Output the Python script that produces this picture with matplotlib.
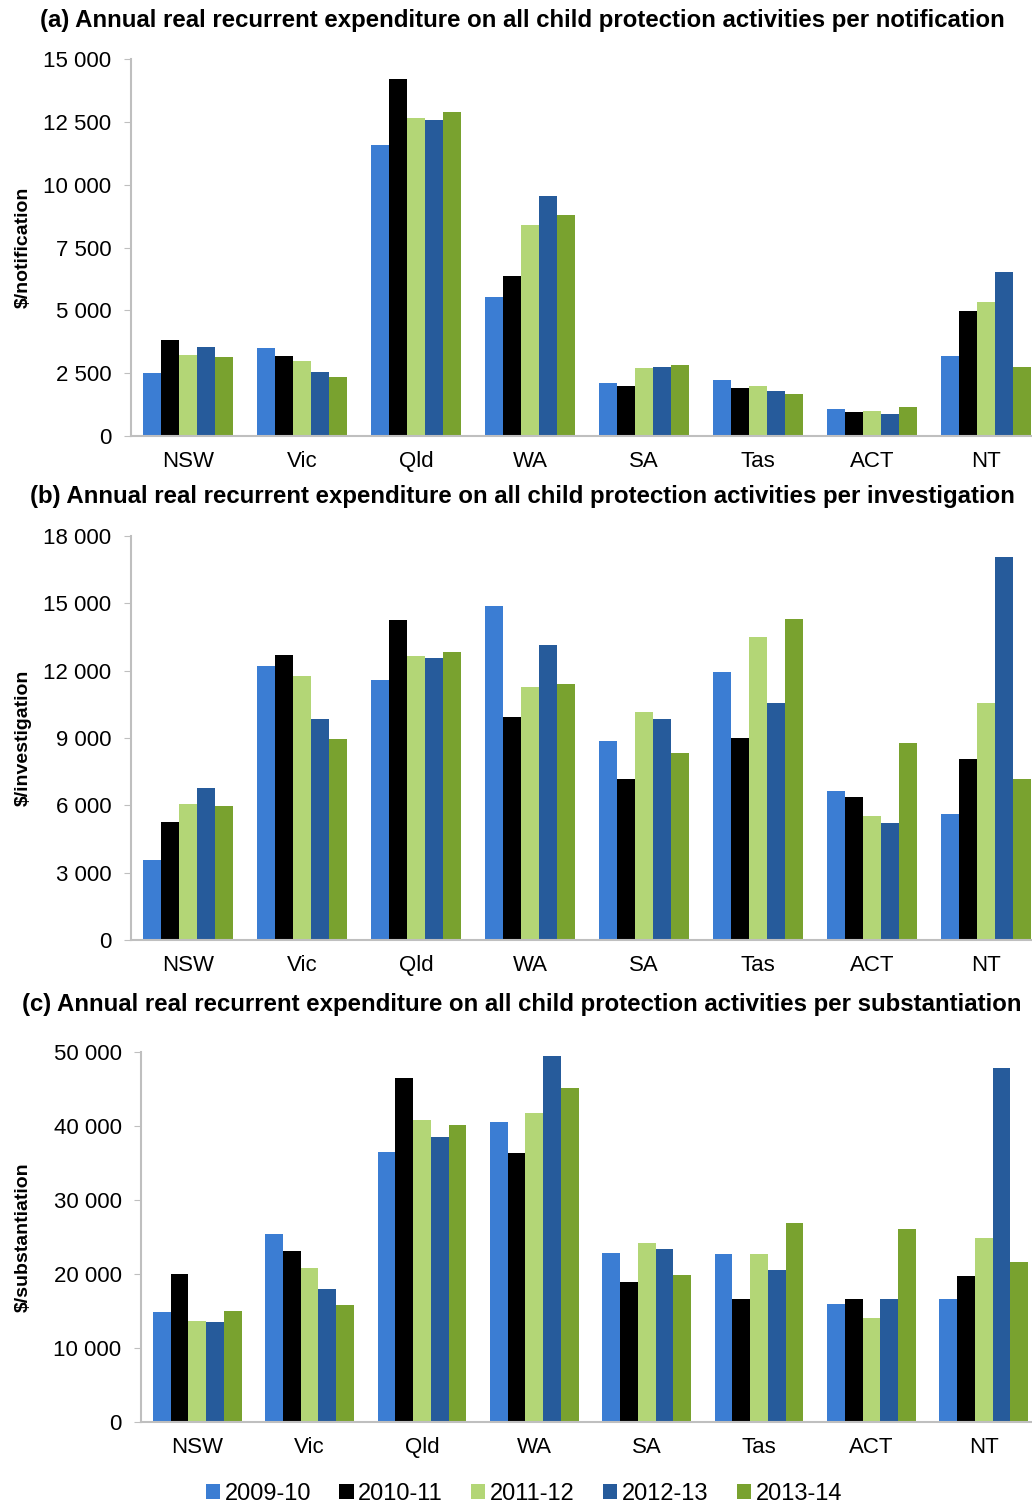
import numpy as np
import matplotlib
matplotlib.use("Agg")
import matplotlib.pyplot as plt

plt.rcParams['font.family'] = ['Liberation Sans', 'DejaVu Sans']

# Jurisdictions and years
states = ["NSW", "Vic", "Qld", "WA", "SA", "Tas", "ACT", "NT"]
years = ["2009-10", "2010-11", "2011-12", "2012-13", "2013-14"]
colors = ["#3b7dd3", "#000000", "#b3d676", "#265b9b", "#79a22f"]

# (a) $ per notification, one list per year (NSW..NT)
notif_0910 = [2510, 3490, 11570, 5520, 2100, 2240, 1090, 3180]
notif_1011 = [3810, 3180, 14220, 6350, 1980, 1920, 940, 4960]
notif_1112 = [3220, 2970, 12670, 8400, 2710, 1980, 990, 5320]
notif_1213 = [3540, 2560, 12560, 9540, 2760, 1780, 890, 6510]
notif_1314 = [3130, 2340, 12880, 8810, 2810, 1670, 1140, 2760]

# (b) $ per investigation
inv_0910 = [3580, 12200, 11590, 14900, 8860, 11950, 6650, 5600]
inv_1011 = [5260, 12690, 14250, 9950, 7190, 8990, 6360, 8070]
inv_1112 = [6040, 11760, 12670, 11290, 10180, 13500, 5510, 10560]
inv_1213 = [6770, 9830, 12550, 13160, 9830, 10560, 5200, 17050]
inv_1314 = [5970, 8940, 12850, 11410, 8330, 14280, 8760, 7160]

# (c) $ per substantiation
sub_0910 = [14860, 25400, 36440, 40600, 22900, 22700, 16000, 16600]
sub_1011 = [20050, 23060, 46500, 36400, 18900, 16600, 16600, 19700]
sub_1112 = [13700, 20760, 40800, 41800, 24200, 22700, 14100, 24800]
sub_1213 = [13500, 17930, 38560, 49460, 23400, 20600, 16600, 47900]
sub_1314 = [15050, 15800, 40200, 45200, 19800, 26900, 26100, 21600]

panels = [
    ("(a) Annual real recurrent expenditure on all child protection activities per notification",
     "$/notification", [notif_0910, notif_1011, notif_1112, notif_1213, notif_1314],
     15000, 2500, [131, 59, 1043, 436], 20),
    ("(b) Annual real recurrent expenditure on all child protection activities per investigation",
     "$/investigation", [inv_0910, inv_1011, inv_1112, inv_1213, inv_1314],
     18000, 3000, [131, 536, 1043, 940], 497),
    ("(c) Annual real recurrent expenditure on all child protection activities per substantiation",
     "$/substantiation", [sub_0910, sub_1011, sub_1112, sub_1213, sub_1314],
     50000, 10000, [141, 1052, 1040, 1422], 1005),
]

W, H = 1032, 1504
fig = plt.figure(figsize=(W / 100, H / 100), dpi=100)

x = np.arange(len(states))
bw = 0.158
axis_col = "#bfbfbf"

for title, ylabel, series, ymax, step, (l, t, r, b), ty in panels:
    ax = fig.add_axes([l / W, (H - b) / H, (r - l) / W, (b - t) / H])
    for i, vals in enumerate(series):
        ax.bar(x + (i - 2) * bw, vals, width=bw, color=colors[i], label=years[i])
    ax.set_xlim(-0.5, len(states) - 0.5)
    ax.set_ylim(0, ymax)
    ticks = np.arange(0, ymax + 1, step)
    ax.set_yticks(ticks)
    ax.set_yticklabels([f"{int(v):,}".replace(",", " ") for v in ticks], fontsize=16)
    ax.set_xticks(x)
    ax.set_xticklabels(states, fontsize=16)
    ax.tick_params(axis="x", length=0, pad=11)
    ax.tick_params(axis="y", length=5, color=axis_col, pad=9)
    for s in ["top", "right"]:
        ax.spines[s].set_visible(False)
    for s in ["left", "bottom"]:
        ax.spines[s].set_color(axis_col)
        ax.spines[s].set_linewidth(1.5)
    ax.set_ylabel(ylabel, fontsize=14, fontweight="bold")
    ax.yaxis.set_label_coords((32 - l) / (r - l), 0.5)
    fig.text(522 / W, 1 - ty / H, title, ha="center", va="center",
             fontsize=17.3, fontweight="bold")

handles, labels = ax.get_legend_handles_labels()
fig.legend(handles, labels, loc="center", bbox_to_anchor=(524 / W, 1 - 1494 / H),
           ncol=5, frameon=False, fontsize=17, handlelength=0.6, handleheight=0.6,
           handletextpad=0.2, columnspacing=1.2)

plt.savefig("out.png", dpi=100)
